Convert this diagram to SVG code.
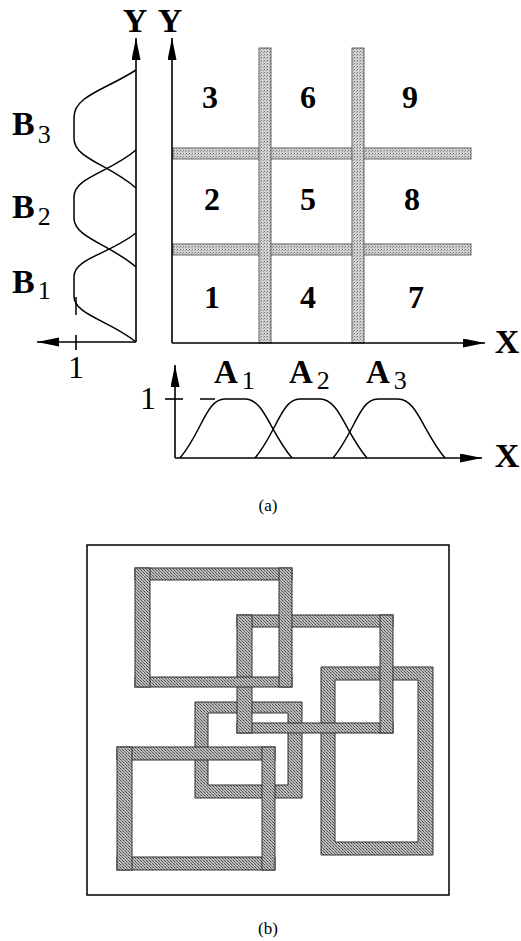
<svg xmlns="http://www.w3.org/2000/svg" width="521" height="941" viewBox="0 0 521 941">
<style>
.ax{fill:none;stroke:#000;stroke-width:1.6}
.cv{fill:none;stroke:#000;stroke-width:1.5}
.lbl{font-family:"Liberation Serif",serif;font-weight:bold;fill:#000}
.sub{font-family:"Liberation Serif",serif;font-weight:normal;fill:#000}
.num{font-family:"Liberation Serif",serif;font-weight:bold;font-size:32px;text-anchor:middle;fill:#000}
.cap{font-family:"Liberation Serif",serif;font-size:17px;text-anchor:middle;fill:#000}
.gbar{fill:url(#stL);stroke:#555;stroke-width:0.9}
.bar{fill:url(#stD);stroke:#333;stroke-width:1}
.frame{fill:url(#stD);fill-rule:evenodd;stroke:#333;stroke-width:1}
</style>
<defs>
<pattern id="stL" width="3" height="3" patternUnits="userSpaceOnUse">
<rect width="3" height="3" fill="#d2d2d2"/>
<rect x="0" y="0" width="1" height="1" fill="#707070"/>
<rect x="2" y="1" width="1" height="1" fill="#999"/>
</pattern>
<pattern id="stD" width="3" height="3" patternUnits="userSpaceOnUse">
<rect width="3" height="3" fill="#bdbdbd"/>
<rect x="0" y="0" width="1" height="1" fill="#444"/>
<rect x="1" y="1" width="1" height="1" fill="#777"/>
<rect x="2" y="2" width="1" height="1" fill="#555"/>
</pattern>
<marker id="arr" markerUnits="userSpaceOnUse" markerWidth="24" markerHeight="10" refX="22" refY="4.5" orient="auto">
<path d="M0,0 L22,4.5 L0,9 Z" fill="#000"/>
</marker>
</defs>

<g id="part-a">
<g id="grid-bars">
<rect class="gbar" x="173" y="148" width="298" height="11"/>
<rect class="gbar" x="173" y="244" width="298" height="11"/>
<rect class="gbar" x="259" y="48" width="12" height="295"/>
<rect class="gbar" x="352" y="48" width="12" height="295"/>
</g>
<g id="axes">
<line class="ax" x1="136" y1="342" x2="136" y2="38" marker-end="url(#arr)"/>
<line class="ax" x1="172" y1="343" x2="172" y2="38" marker-end="url(#arr)"/>
<line class="ax" x1="172" y1="343" x2="485" y2="343" marker-end="url(#arr)"/>
<line class="ax" x1="136" y1="342" x2="37" y2="342" marker-end="url(#arr)"/>
<line class="ax" x1="76" y1="335" x2="76" y2="350"/>
<line class="ax" x1="175" y1="458" x2="175" y2="365" marker-end="url(#arr)"/>
<line class="ax" x1="175" y1="458" x2="482" y2="458" marker-end="url(#arr)"/>
<line class="ax" x1="165" y1="399" x2="183" y2="399"/>
</g>
<g id="B-curves">
<path class="cv" d="M136,70 C105,90 74,96 74,117.2 L74,138.4 C74,158.5 109,164.4 136,188"/>
<path class="cv" d="M136,150 C109,173 74,177.2 74,196.8 L74,217.9 C74,237.8 109,243.6 136,267"/>
<path class="cv" d="M136,233 C109,254.4 74,258.3 74,276.6 L74,296.2 C74,314.8 109,320.2 136,342"/>
<line class="cv" x1="76" y1="297" x2="76" y2="315"/>
</g>
<g id="A-curves">
<path class="cv" d="M180,458 C202,432 206,399 225,399 L245,399 C264,399 270,432 292,458"/>
<path class="cv" d="M255,458 C277,432 281,399 300,399 L320,399 C339,399 345,432 367,458"/>
<path class="cv" d="M333,458 C355,432 359,399 378,399 L398,399 C417,399 423,432 445,458"/>
<line class="cv" x1="200" y1="399" x2="215" y2="399"/>
</g>
<g id="labels-a">
<text class="lbl" x="135" y="32" font-size="34" text-anchor="middle">Y</text>
<text class="lbl" x="170" y="32" font-size="34" text-anchor="middle">Y</text>
<text class="lbl" x="507" y="353" font-size="34" text-anchor="middle">X</text>
<text class="lbl" x="507" y="467" font-size="34" text-anchor="middle">X</text>
<text x="12" y="135"><tspan class="lbl" font-size="34">B</tspan><tspan class="sub" font-size="26" dx="3" dy="8">3</tspan></text>
<text x="12" y="218"><tspan class="lbl" font-size="34">B</tspan><tspan class="sub" font-size="26" dx="3" dy="7">2</tspan></text>
<text x="12" y="293"><tspan class="lbl" font-size="34">B</tspan><tspan class="sub" font-size="26" dx="3" dy="6">1</tspan></text>
<text x="214" y="383"><tspan class="lbl" font-size="33">A</tspan><tspan class="sub" font-size="26" dx="4" dy="6">1</tspan></text>
<text x="289" y="383"><tspan class="lbl" font-size="33">A</tspan><tspan class="sub" font-size="26" dx="4" dy="6">2</tspan></text>
<text x="366" y="383"><tspan class="lbl" font-size="33">A</tspan><tspan class="sub" font-size="26" dx="4" dy="6">3</tspan></text>
<text class="sub" x="76" y="378" font-size="32" text-anchor="middle">1</text>
<text class="sub" x="148" y="409" font-size="32" text-anchor="middle">1</text>
<text class="num" x="210" y="108">3</text>
<text class="num" x="308" y="108">6</text>
<text class="num" x="410" y="108">9</text>
<text class="num" x="212" y="210">2</text>
<text class="num" x="308" y="210">5</text>
<text class="num" x="412" y="210">8</text>
<text class="num" x="212" y="308">1</text>
<text class="num" x="308" y="308">4</text>
<text class="num" x="416" y="308">7</text>
<text class="cap" x="268" y="511">(a)</text>
</g>
</g>

<g id="part-b">
<rect x="87" y="545" width="362" height="350" fill="none" stroke="#000" stroke-width="1.5"/>
<g id="R3"><path class="frame" d="M321,667 H433 V855 H321 Z M335,680 V842 H418 V680 Z"/></g>
<g id="R4"><path class="frame" d="M195,702 H302 V798 H195 Z M208,713 V785 H288 V713 Z"/></g>
<g id="R2">
<rect class="bar" x="237" y="615" width="156" height="12"/>
<rect class="bar" x="237" y="723" width="156" height="10"/>
<rect class="bar" x="237" y="615" width="15" height="118"/>
<rect class="bar" x="380" y="615" width="13" height="118"/>
</g>
<g id="R5">
<rect class="bar" x="117" y="747" width="158" height="13"/>
<rect class="bar" x="117" y="857" width="158" height="13"/>
<rect class="bar" x="117" y="747" width="15" height="123"/>
<rect class="bar" x="262" y="747" width="13" height="123"/>
</g>
<g id="R1">
<rect class="bar" x="135" y="568" width="157" height="12"/>
<rect class="bar" x="135" y="677" width="157" height="10"/>
<rect class="bar" x="135" y="568" width="15" height="119"/>
<rect class="bar" x="279" y="568" width="13" height="119"/>
</g>
<text class="cap" x="268" y="934">(b)</text>
</g>
</svg>
